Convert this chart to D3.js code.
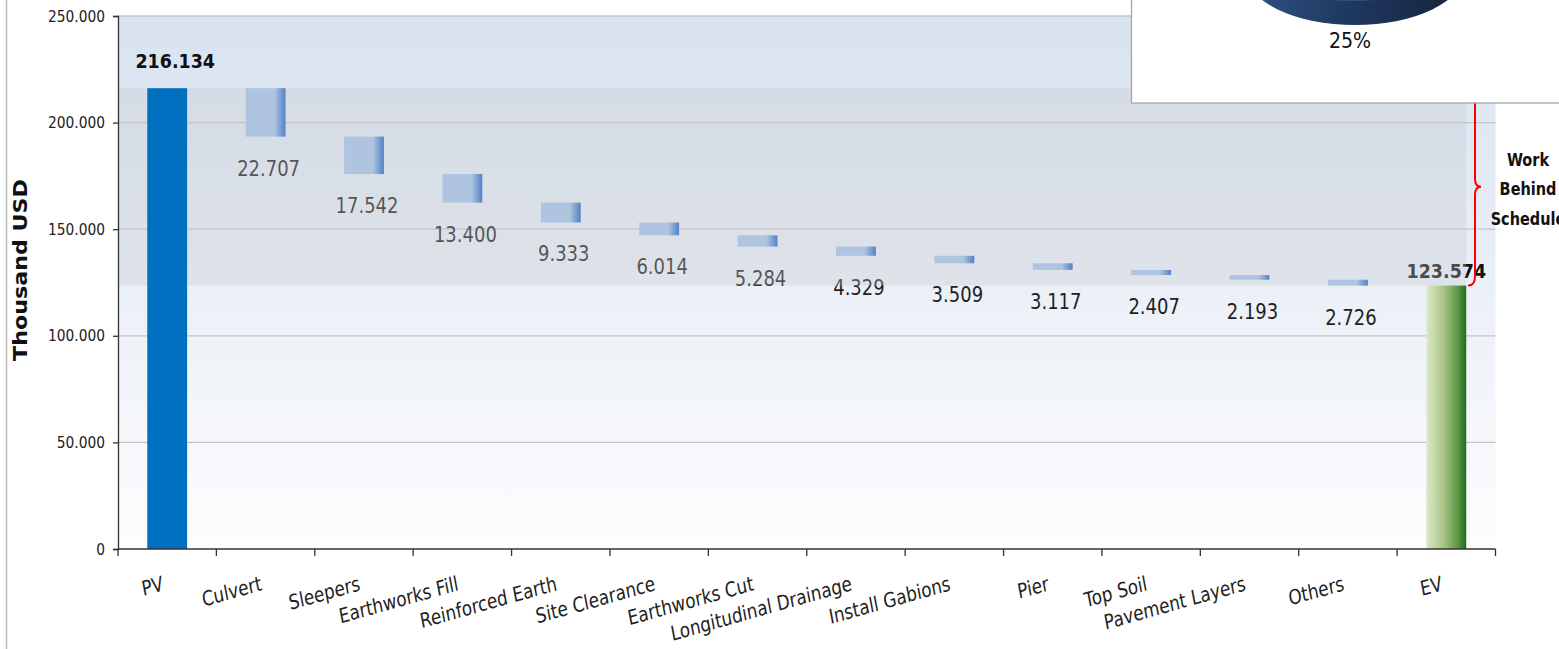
<!DOCTYPE html>
<html>
<head>
<meta charset="utf-8">
<script src="https://cdn.jsdelivr.net/npm/d3@7"></script>
<style>
  html, body { margin: 0; padding: 0; background: #fff; }
  svg { display: block; font-family: "DejaVu Sans", Verdana, sans-serif; }
</style>
</head>
<body>
<svg id="chart" width="1559" height="649"></svg>
<script>
// ---- data (thousand USD, "." is the thousands separator in the labels)
var categories = ["PV", "Culvert", "Sleepers", "Earthworks Fill", "Reinforced Earth", "Site Clearance",
  "Earthworks Cut", "Longitudinal Drainage", "Install Gabions", "Pier", "Top Soil", "Pavement Layers", "Others", "EV"];
var plannedValue = 216134;
var shortfalls = [22707, 17542, 13400, 9333, 6014, 5284, 4329, 3509, 3117, 2407, 2193, 2726];
var earnedValue = 123574;
var yTicks = [0, 50000, 100000, 150000, 200000, 250000];
var braceLines = ["Work", "Behind", "Schedule"];
var pieLabel = "25%";

var locale = d3.formatLocale({decimal: ",", thousands: ".", grouping: [3], currency: ["", ""]});
var fmt = locale.format(",d");

// build waterfall steps
var steps = [{name: categories[0], kind: "total", lo: 0, hi: plannedValue, v: plannedValue}];
var run = plannedValue;
shortfalls.forEach(function(v, i) {
  steps.push({name: categories[i + 1], kind: "drop", lo: run - v, hi: run, v: v});
  run -= v;
});
steps.push({name: categories[categories.length - 1], kind: "total", lo: 0, hi: earnedValue, v: earnedValue});

var svg = d3.select("#chart");
var pL = 118, pR = 1495.5, pT = 16, pB = 549;

var x = d3.scaleBand().domain(categories).range([pL, pR]);
var y = d3.scaleLinear().domain([0, 250000]).range([pB, pT]);
var barW = x.bandwidth() * 0.405;
var cx = function(n) { return x(n) + x.bandwidth() / 2; };

var defs = svg.append("defs");
function grad(id, horiz, stops) {
  var g = defs.append("linearGradient").attr("id", id)
    .attr("x1", 0).attr("y1", 0).attr("x2", horiz ? 1 : 0).attr("y2", horiz ? 0 : 1);
  stops.forEach(function(s) { g.append("stop").attr("offset", s[0]).attr("stop-color", s[1]); });
}
grad("bgGrad", false, [[0, "#d8e2f0"], [0.45, "#e9eef6"], [1, "#fdfdfe"]]);
grad("dropGrad", true, [[0, "#a6c4e8"], [0.72, "#a6c4e8"], [1, "#1c62c2"]]);
grad("evGrad", true, [[0, "#dce9c6"], [0.45, "#a9c283"], [0.8, "#5a9444"], [1, "#1b6f1b"]]);
grad("pieGrad", true, [[0, "#2f5282"], [0.45, "#1f3962"], [1, "#16223a"]]);

// stretched text helper (the reference is slightly taller than wide)
function stext(parent, px, py, str, sy) {
  return parent.append("text")
    .attr("transform", "translate(" + px + "," + py + ") scale(1," + (sy || 1.18) + ")")
    .text(str);
}

// outer frame line
svg.append("line").attr("x1", 6.5).attr("x2", 6.5).attr("y1", 0).attr("y2", 649)
  .attr("stroke", "#b8b8b8").attr("stroke-width", 1.5);

// plot background
svg.append("rect").attr("x", pL).attr("y", pT).attr("width", pR - pL).attr("height", pB - pT)
  .attr("fill", "url(#bgGrad)");

// gridlines
svg.append("g").selectAll("line").data(yTicks.filter(function(d) { return d > 0; })).join("line")
  .attr("x1", pL).attr("x2", pR).attr("y1", function(d) { return y(d); }).attr("y2", function(d) { return y(d); })
  .attr("stroke", "#c4c4c6").attr("stroke-width", 1.3);

// floating bars
var drops = steps.filter(function(d) { return d.kind === "drop"; });
svg.append("g").selectAll("rect").data(drops).join("rect")
  .attr("x", function(d) { return cx(d.name) - barW / 2; })
  .attr("y", function(d) { return y(d.hi); })
  .attr("width", barW)
  .attr("height", function(d) { return y(d.lo) - y(d.hi); })
  .attr("fill", "url(#dropGrad)");

var lab = svg.append("g").attr("font-size", 18).attr("fill", "#1e1e1e").attr("text-anchor", "middle");
drops.forEach(function(d) {
  stext(lab, cx(d.name) + 3, y(d.lo) + 39, fmt(d.v), 1.15);
});

// EV label sits partly under the grey band
var ev = steps[steps.length - 1], pv = steps[0];
stext(svg, cx(ev.name), y(ev.hi) - 8, fmt(ev.v), 1.15)
  .attr("text-anchor", "middle").attr("font-size", 17.5).attr("font-weight", "bold").attr("fill", "#111");

// grey "behind schedule" band
svg.append("rect").attr("x", pL).attr("y", y(pv.hi))
  .attr("width", cx(ev.name) + barW / 2 - pL).attr("height", y(ev.hi) - y(pv.hi))
  .attr("fill", "rgb(196,198,205)").attr("opacity", 0.32);

// total bars
svg.append("rect").attr("x", cx(pv.name) - barW / 2).attr("y", y(pv.hi))
  .attr("width", barW).attr("height", y(0) - y(pv.hi)).attr("fill", "#0070c0");
svg.append("rect").attr("x", cx(ev.name) - barW / 2).attr("y", y(ev.hi))
  .attr("width", barW).attr("height", y(0) - y(ev.hi)).attr("fill", "url(#evGrad)");
stext(svg, cx(pv.name) + 8, y(pv.hi) - 20, fmt(pv.v), 1.15)
  .attr("text-anchor", "middle").attr("font-size", 17.5).attr("font-weight", "bold").attr("fill", "#111");

// y axis
var yAxis = svg.append("g").attr("transform", "translate(" + pL + ",0)")
  .call(d3.axisLeft(y).tickValues(yTicks).tickSize(5).tickPadding(8).tickFormat(fmt));
yAxis.select(".domain").attr("stroke", "#333").attr("stroke-width", 1.3);
yAxis.selectAll(".tick line").attr("stroke", "#333").attr("stroke-width", 1.3);
yAxis.selectAll("text").attr("font-size", 13.8).attr("fill", "#222")
  .attr("font-family", "DejaVu Sans, sans-serif").attr("transform", "scale(1,1.15)");

// x axis: line, boundary ticks, rotated labels
var xg = svg.append("g");
xg.append("line").attr("x1", pL).attr("x2", pR).attr("y1", pB).attr("y2", pB)
  .attr("stroke", "#333").attr("stroke-width", 1.3);
xg.selectAll(".xt").data(categories.concat(["_end"])).join("line").attr("class", "xt")
  .attr("x1", function(d) { return d === "_end" ? pR : x(d); })
  .attr("x2", function(d) { return d === "_end" ? pR : x(d); })
  .attr("y1", pB).attr("y2", pB + 7).attr("stroke", "#333").attr("stroke-width", 1.3);
xg.selectAll(".xl").data(categories).join("text").attr("class", "xl")
  .attr("transform", function(d) { return "translate(" + (cx(d) - 3) + ",590) scale(1,1.22) rotate(-13)"; })
  .attr("text-anchor", "end").attr("font-size", 16.8).attr("fill", "#222")
  .text(function(d) { return d; });

// y axis title
svg.append("text").attr("transform", "translate(27,270) rotate(-90) scale(1.18,1)")
  .attr("text-anchor", "middle").attr("font-size", 18.8).attr("font-weight", "bold").attr("fill", "#111")
  .text("Thousand USD");

// red brace between PV and EV
var bx = 1475, bt = y(pv.hi), bb = y(ev.hi), bm = (bt + bb) / 2;
var bp = d3.path();
bp.moveTo(bx - 7, bt); bp.quadraticCurveTo(bx, bt, bx, bt + 9);
bp.lineTo(bx, bm - 8); bp.quadraticCurveTo(bx, bm, bx + 6, bm);
bp.quadraticCurveTo(bx, bm, bx, bm + 8); bp.lineTo(bx, bb - 9);
bp.quadraticCurveTo(bx, bb, bx - 7, bb);
svg.append("path").attr("d", bp.toString()).attr("fill", "none").attr("stroke", "#ff0000").attr("stroke-width", 2);

var bl = svg.append("g").attr("font-size", 14.5).attr("font-weight", "bold").attr("fill", "#111").attr("text-anchor", "middle");
braceLines.forEach(function(t, i) { stext(bl, 1528, bm - 21 + i * 29.5, t, 1.2); });

// inset box with the bottom of a 3D pie
svg.append("rect").attr("x", 1131.5).attr("y", -5).attr("width", 440).attr("height", 108)
  .attr("fill", "#fff").attr("stroke", "#a6a6a6").attr("stroke-width", 1.3);
svg.append("ellipse").attr("cx", 1355).attr("cy", -29).attr("rx", 110).attr("ry", 54).attr("fill", "url(#pieGrad)");
svg.append("ellipse").attr("cx", 1352).attr("cy", -44).attr("rx", 104).attr("ry", 45).attr("fill", "#2b4f80");
stext(svg, 1350, 48, pieLabel, 1.08).attr("text-anchor", "middle").attr("font-size", 19).attr("fill", "#111");
</script>
</body>
</html>
